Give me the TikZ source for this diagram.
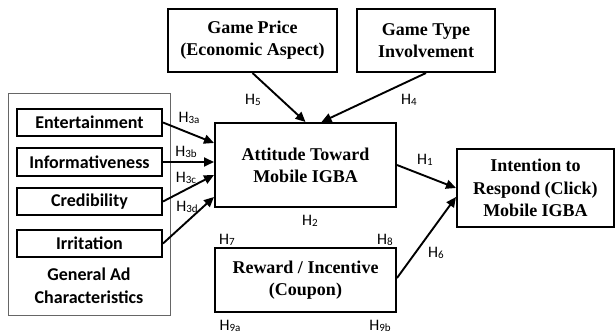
\documentclass[tikz,border=0pt]{standalone}
\usepackage{fontspec}
\setmainfont{Liberation Serif}
\newfontfamily\calfont{Carlito}
\usetikzlibrary{arrows.meta,calc}
\newcommand{\hl}[2]{H\raisebox{-1.5pt}{\fontsize{11}{11}\selectfont #2}}
\begin{document}
\begin{tikzpicture}[x=1pt,y=-1pt,
  serifbox/.style={draw,line width=2pt,inner sep=0pt,align=center,
    font=\fontsize{18}{22}\selectfont\bfseries},
  sansbox/.style={draw,line width=2pt,inner sep=0pt,align=center,
    minimum width=145pt,minimum height=27pt,
    font=\fontsize{18}{22}\selectfont\calfont\bfseries},
  hlab/.style={inner sep=0pt,font=\fontsize{16}{16}\selectfont\calfont},
  arr/.style={line width=1.9pt,-{Triangle[length=10pt,width=9pt]}},
]
\useasboundingbox (0,0) rectangle (616,336);
% group box
\node[draw=black!60,line width=0.9pt,minimum width=162pt,minimum height=222pt,inner sep=0pt] (grp) at (89,204) {};
\node[sansbox] (ent) at (89.5,122.5) {Entertainment};
\node[sansbox,minimum height=28pt] (inf) at (89.5,162) {Informativeness};
\node[sansbox] (cred) at (89.5,201.5) {Credibility};
\node[sansbox] (irr) at (89.5,243.5) {Irritation};
\node[align=center,inner sep=0pt,font=\fontsize{18}{23}\selectfont\calfont\bfseries] (gac) at (89,285.5) {General Ad\\Characteristics};
% main boxes
\node[serifbox,minimum width=169pt,minimum height=63pt] (gp) at (252.5,40.5) {Game Price\\(Economic Aspect)};
\node[serifbox,minimum width=138pt,minimum height=63pt] (gt) at (426,40.5) {Game Type\\Involvement};
\node[serifbox,minimum width=181pt,minimum height=84pt] (att) at (305.5,165) {Attitude Toward\\Mobile IGBA};
\node[serifbox,minimum width=157pt,minimum height=78pt,font=\fontsize{18}{22.5}\selectfont\bfseries] (int) at (535.5,188) {Intention to\\Respond (Click)\\Mobile IGBA};
\node[serifbox,minimum width=181pt,minimum height=64pt] (rew) at (305.5,280) {Reward / Incentive\\(Coupon)};
% arrows
\draw[arr] (ent.east) -- ([yshift=22pt]att.west);
\draw[arr] (inf.east) -- (att.west |- inf.east);
\draw[arr] (cred.east) -- ([yshift=-10pt]att.west);
\draw[arr] (irr.east) -- ([yshift=-32pt]att.west);
\draw[arr] (gp.south) -- (att.north);
\draw[arr] (gt.south) -- ([xshift=16pt]att.north);
\draw[arr] (att.east) -- (int.west);
\draw[arr] ([yshift=2pt]rew.east) -- ([yshift=-9pt]int.west);
% labels
\node[hlab] (h3a) at (189,118) {\hl{}{3a}};
\node[hlab] (h3b) at (186,152) {\hl{}{3b}};
\node[hlab] (h3c) at (186,178) {\hl{}{3c}};
\node[hlab] (h3d) at (187,207) {\hl{}{3d}};
\node[hlab] (h5) at (253,100) {\hl{}{5}};
\node[hlab] (h4) at (409,100) {\hl{}{4}};
\node[hlab] (h1) at (425,160) {\hl{}{1}};
\node[hlab] (h2) at (310,221) {\hl{}{2}};
\node[hlab] (h7) at (227,240) {\hl{}{7}};
\node[hlab] (h8) at (385,240) {\hl{}{8}};
\node[hlab] (h6) at (436,253) {\hl{}{6}};
\node[hlab] (h9a) at (230,326) {\hl{}{9a}};
\node[hlab] (h9b) at (380,326) {\hl{}{9b}};
\end{tikzpicture}
\end{document}
